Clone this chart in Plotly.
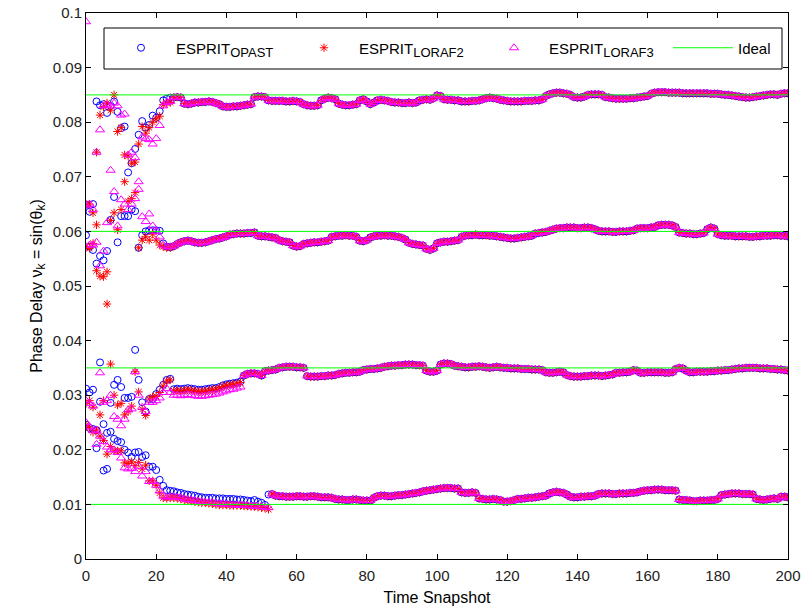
import plotly.graph_objects as go

# ---------------- data ----------------
ideal_values = [0.085, 0.06, 0.035, 0.01]
t_min, t_max = 0, 200

# early snapshots t = 0..24, four estimated phase delays per method
opast_early_1 = [0.0649, 0.0636, 0.0650, 0.0838, 0.0831, 0.0833, 0.0817, 0.0830, 0.0838, 0.0819, 0.0789, 0.0792, 0.0708,
                 0.0725, 0.0751, 0.0777, 0.0802, 0.0790, 0.0795, 0.0812, 0.0808, 0.0820, 0.0840, 0.0843, 0.0845]
opast_early_2 = [0.0593, 0.0572, 0.0566, 0.0541, 0.0555, 0.0547, 0.0564, 0.0621, 0.0663, 0.0580, 0.0628, 0.0628, 0.0628,
                 0.0640, 0.0637, 0.0570, 0.0593, 0.0600, 0.0602, 0.0602, 0.0602, 0.0601, 0.0578, 0.0572, 0.0571]
opast_early_3 = [0.0312, 0.0305, 0.0310, 0.0236, 0.0360, 0.0247, 0.0231, 0.0286, 0.0319, 0.0328, 0.0315, 0.0295, 0.0295,
                 0.0297, 0.0383, 0.0328, 0.0287, 0.0270, 0.0293, 0.0293, 0.0302, 0.0310, 0.0319, 0.0328, 0.0330]
opast_early_4 = [0.0246, 0.0240, 0.0238, 0.0203, 0.0288, 0.0162, 0.0165, 0.0233, 0.0220, 0.0216, 0.0214, 0.0200, 0.0195,
                 0.0187, 0.0195, 0.0196, 0.0187, 0.0190, 0.0169, 0.0169, 0.0163, 0.0145, 0.0134, 0.0126, 0.0125]

loraf2_early_1 = [0.0650, 0.0650, 0.0634, 0.0745, 0.0813, 0.0828, 0.0835, 0.0822, 0.0850, 0.0783, 0.0790, 0.0740, 0.0738,
                  0.0725, 0.0727, 0.0760, 0.0792, 0.0780, 0.0790, 0.0800, 0.0806, 0.0811, 0.0832, 0.0835, 0.0836]
loraf2_early_2 = [0.0572, 0.0569, 0.0578, 0.0612, 0.0518, 0.0517, 0.0526, 0.0620, 0.0634, 0.0603, 0.0640, 0.0691, 0.0655,
                  0.0660, 0.0671, 0.0570, 0.0584, 0.0590, 0.0584, 0.0595, 0.0584, 0.0575, 0.0572, 0.0570, 0.0570]
loraf2_early_3 = [0.0285, 0.0290, 0.0278, 0.0528, 0.0264, 0.0290, 0.0467, 0.0357, 0.0300, 0.0282, 0.0285, 0.0264, 0.0270,
                  0.0280, 0.0343, 0.0306, 0.0274, 0.0263, 0.0293, 0.0297, 0.0298, 0.0305, 0.0317, 0.0326, 0.0328]
loraf2_early_4 = [0.0245, 0.0240, 0.0232, 0.0236, 0.0225, 0.0217, 0.0192, 0.0206, 0.0198, 0.0198, 0.0198, 0.0176, 0.0175,
                  0.0178, 0.0171, 0.0177, 0.0165, 0.0172, 0.0143, 0.0143, 0.0135, 0.0121, 0.0112, 0.0111, 0.0112]

loraf3_early_1 = [0.0984, 0.0650, 0.0640, 0.0745, 0.0786, 0.0830, 0.0832, 0.0830, 0.0835, 0.0830, 0.0813, 0.0815, 0.0740,
                  0.0745, 0.0735, 0.0691, 0.0773, 0.0770, 0.0768, 0.0760, 0.0770, 0.0794, 0.0830, 0.0836, 0.0838]
loraf3_early_2 = [0.0648, 0.0575, 0.0575, 0.0580, 0.0537, 0.0564, 0.0616, 0.0712, 0.0673, 0.0610, 0.0658, 0.0650, 0.0640,
                  0.0650, 0.0660, 0.0677, 0.0627, 0.0618, 0.0632, 0.0610, 0.0600, 0.0590, 0.0575, 0.0572, 0.0572]
loraf3_early_3 = [0.0290, 0.0285, 0.0280, 0.0236, 0.0341, 0.0287, 0.0290, 0.0300, 0.0261, 0.0256, 0.0244, 0.0256, 0.0273,
                  0.0275, 0.0343, 0.0300, 0.0278, 0.0270, 0.0287, 0.0287, 0.0290, 0.0295, 0.0305, 0.0312, 0.0305]
loraf3_early_4 = [0.0250, 0.0242, 0.0235, 0.0210, 0.0225, 0.0215, 0.0205, 0.0200, 0.0200, 0.0195, 0.0185, 0.0167, 0.0165,
                  0.0166, 0.0160, 0.0170, 0.0152, 0.0160, 0.0142, 0.0142, 0.0135, 0.0125, 0.0115, 0.0113, 0.0114]

# converged snapshots t = 25..200, shared by all three methods
track1_late = [
    0.0845, 0.0846, 0.0845,
    0.0834, 0.0833, 0.0834, 0.0836,
    0.0836, 0.0837, 0.0837, 0.0838, 0.0837, 0.0835, 0.0833,
    0.0829, 0.0828, 0.0828, 0.0829, 0.0829, 0.0830, 0.0831, 0.0832, 0.0833,
    0.0846, 0.0847, 0.0847, 0.0846,
    0.0840, 0.0839, 0.0839, 0.0839, 0.0839, 0.0838, 0.0838, 0.0839, 0.0838, 0.0837,
    0.0833, 0.0831, 0.0830, 0.0830, 0.0831,
    0.0840, 0.0843, 0.0845, 0.0844, 0.0842,
    0.0834, 0.0832, 0.0831, 0.0831, 0.0832, 0.0833,
    0.0840, 0.0842, 0.0838,
    0.0833, 0.0836,
    0.0840, 0.0841, 0.0840, 0.0839,
    0.0837, 0.0836, 0.0836, 0.0835, 0.0835, 0.0836, 0.0835, 0.0836,
    0.0840, 0.0841, 0.0842, 0.0841, 0.0844,
    0.0849, 0.0848,
    0.0842, 0.0841, 0.0841, 0.0840, 0.0840,
    0.0838, 0.0838, 0.0838, 0.0839, 0.0839, 0.0840, 0.0842,
    0.0844, 0.0845, 0.0844, 0.0843,
    0.0841, 0.0840, 0.0839, 0.0838, 0.0838, 0.0838, 0.0838, 0.0839, 0.0839, 0.0839, 0.0840, 0.0840, 0.0842,
    0.0848, 0.0851, 0.0853, 0.0854, 0.0854, 0.0853, 0.0852, 0.0850,
    0.0846, 0.0845, 0.0845, 0.0847,
    0.0850, 0.0851, 0.0851, 0.0851, 0.0850,
    0.0846, 0.0845, 0.0844, 0.0843, 0.0843, 0.0843, 0.0843, 0.0844, 0.0844, 0.0845, 0.0846, 0.0847, 0.0848,
    0.0852, 0.0854, 0.0855, 0.0855, 0.0855, 0.0854, 0.0854, 0.0854, 0.0854, 0.0853, 0.0853, 0.0853,
    0.0853, 0.0853, 0.0853, 0.0853, 0.0853, 0.0852, 0.0852, 0.0852, 0.0851, 0.0850, 0.0850, 0.0849,
    0.0848, 0.0847, 0.0846, 0.0845, 0.0845, 0.0846, 0.0847, 0.0848, 0.0849,
    0.0850, 0.0851, 0.0851, 0.0850, 0.0852, 0.0853, 0.0853,
]
track2_late = [
    0.0573, 0.0577, 0.0580, 0.0582, 0.0583, 0.0582, 0.0580, 0.0579, 0.0579, 0.0580, 0.0582,
    0.0584, 0.0586, 0.0587, 0.0589, 0.0591,
    0.0594, 0.0595, 0.0596, 0.0596, 0.0596, 0.0597, 0.0597, 0.0598,
    0.0592, 0.0591, 0.0591, 0.0590, 0.0589, 0.0588,
    0.0584, 0.0582, 0.0581, 0.0580,
    0.0574, 0.0572, 0.0573,
    0.0577, 0.0578, 0.0579, 0.0580, 0.0580, 0.0581, 0.0582, 0.0583,
    0.0590, 0.0591, 0.0592, 0.0592, 0.0593, 0.0592, 0.0592, 0.0590,
    0.0583, 0.0582, 0.0584,
    0.0589, 0.0591, 0.0592, 0.0592, 0.0593, 0.0592, 0.0592, 0.0591, 0.0590, 0.0588,
    0.0585, 0.0579, 0.0577, 0.0576, 0.0575, 0.0574,
    0.0568, 0.0566, 0.0569,
    0.0578, 0.0580, 0.0581, 0.0581, 0.0582, 0.0583, 0.0584,
    0.0590, 0.0592, 0.0593, 0.0593, 0.0594, 0.0593, 0.0593, 0.0593, 0.0592, 0.0592, 0.0591, 0.0590,
    0.0589, 0.0588, 0.0587, 0.0587, 0.0588, 0.0589, 0.0590, 0.0591, 0.0592,
    0.0596, 0.0597, 0.0598, 0.0599, 0.0601, 0.0603,
    0.0605, 0.0606, 0.0606, 0.0607, 0.0607, 0.0607, 0.0606, 0.0606, 0.0607, 0.0607, 0.0606, 0.0604,
    0.0601, 0.0600, 0.0600, 0.0600, 0.0599, 0.0599, 0.0600, 0.0600, 0.0600, 0.0601, 0.0602,
    0.0605, 0.0606, 0.0606, 0.0606, 0.0607, 0.0608,
    0.0611, 0.0612, 0.0612, 0.0612, 0.0611, 0.0608,
    0.0598, 0.0597, 0.0596, 0.0596, 0.0595, 0.0595, 0.0596, 0.0597,
    0.0604, 0.0607, 0.0605,
    0.0595, 0.0593, 0.0592, 0.0592, 0.0592, 0.0591, 0.0591, 0.0591, 0.0591, 0.0590, 0.0590,
    0.0591, 0.0591, 0.0592, 0.0592, 0.0592, 0.0593, 0.0593, 0.0592, 0.0592, 0.0591,
]
track3_late = [
    0.0311, 0.0312, 0.0311, 0.0312, 0.0313, 0.0312, 0.0311,
    0.0310, 0.0310, 0.0311, 0.0312, 0.0313, 0.0313, 0.0315,
    0.0318, 0.0320, 0.0321, 0.0322, 0.0323, 0.0325,
    0.0336, 0.0339, 0.0340, 0.0340, 0.0339, 0.0336,
    0.0344, 0.0345, 0.0346, 0.0347,
    0.0350, 0.0351, 0.0352, 0.0352, 0.0352, 0.0351, 0.0351, 0.0350,
    0.0335, 0.0334, 0.0334, 0.0334, 0.0335, 0.0335, 0.0336, 0.0336, 0.0337,
    0.0339, 0.0340, 0.0341, 0.0341, 0.0342, 0.0342, 0.0343,
    0.0346, 0.0347, 0.0348, 0.0348, 0.0349, 0.0350,
    0.0352, 0.0353, 0.0354, 0.0354, 0.0355, 0.0355, 0.0356, 0.0356, 0.0356, 0.0355, 0.0355, 0.0354,
    0.0345, 0.0343, 0.0343, 0.0345,
    0.0356, 0.0358, 0.0358, 0.0357,
    0.0354, 0.0353, 0.0352, 0.0351, 0.0351, 0.0352, 0.0352, 0.0353, 0.0352, 0.0351, 0.0350, 0.0351, 0.0352, 0.0351,
    0.0350, 0.0350, 0.0349, 0.0349, 0.0349, 0.0348, 0.0348, 0.0348, 0.0347, 0.0347, 0.0347, 0.0346,
    0.0342, 0.0341, 0.0341, 0.0342, 0.0343, 0.0342,
    0.0337, 0.0335, 0.0334, 0.0334, 0.0334, 0.0335, 0.0335, 0.0336, 0.0336, 0.0336, 0.0335, 0.0336, 0.0337, 0.0338,
    0.0341, 0.0341, 0.0342, 0.0342, 0.0343,
    0.0346, 0.0345,
    0.0341, 0.0341, 0.0342, 0.0342, 0.0342, 0.0342, 0.0342, 0.0341, 0.0341, 0.0342,
    0.0348, 0.0350, 0.0349, 0.0345,
    0.0342, 0.0342, 0.0343, 0.0343, 0.0343, 0.0343, 0.0344, 0.0344, 0.0345, 0.0345, 0.0346, 0.0346, 0.0347,
    0.0348, 0.0349, 0.0349, 0.0350, 0.0350, 0.0350, 0.0350, 0.0349, 0.0349, 0.0349, 0.0348, 0.0348,
    0.0347, 0.0347, 0.0346, 0.0345,
]
track4_late = [
    0.0124, 0.0122, 0.0121, 0.0119, 0.0118, 0.0117, 0.0116,
    0.0114, 0.0113, 0.0112, 0.0112, 0.0112, 0.0111, 0.0111, 0.0111, 0.0110, 0.0110, 0.0110, 0.0109, 0.0109,
    0.0108, 0.0107, 0.0106, 0.0108, 0.0105, 0.0103, 0.0099,
    0.0118, 0.0119, 0.0116, 0.0115, 0.0115, 0.0114, 0.0114, 0.0114, 0.0115, 0.0115, 0.0114, 0.0114,
    0.0115, 0.0115, 0.0114, 0.0113, 0.0113, 0.0113, 0.0112,
    0.0110, 0.0109, 0.0109, 0.0108, 0.0108, 0.0109, 0.0109, 0.0108, 0.0107, 0.0107, 0.0107,
    0.0112, 0.0115, 0.0116, 0.0116, 0.0115, 0.0115, 0.0116, 0.0117, 0.0117, 0.0118, 0.0119, 0.0120, 0.0121, 0.0122,
    0.0124, 0.0125, 0.0126, 0.0127, 0.0128, 0.0129, 0.0130, 0.0130, 0.0130, 0.0129, 0.0129,
    0.0122, 0.0121, 0.0121, 0.0122, 0.0121,
    0.0111, 0.0110, 0.0109, 0.0109, 0.0110, 0.0109, 0.0108,
    0.0105, 0.0105, 0.0106, 0.0108,
    0.0110, 0.0110, 0.0111, 0.0112, 0.0112, 0.0113, 0.0114, 0.0115, 0.0116,
    0.0120, 0.0122, 0.0123, 0.0122, 0.0121, 0.0118,
    0.0114, 0.0113, 0.0113, 0.0114, 0.0114, 0.0115, 0.0115, 0.0116,
    0.0119, 0.0120, 0.0120, 0.0120, 0.0119, 0.0119, 0.0120, 0.0120, 0.0120, 0.0121, 0.0121, 0.0122, 0.0124,
    0.0125, 0.0126, 0.0126, 0.0127, 0.0127, 0.0127, 0.0126, 0.0126, 0.0126, 0.0125,
    0.0109, 0.0108, 0.0108, 0.0107, 0.0106, 0.0106, 0.0107, 0.0107, 0.0107, 0.0108, 0.0108, 0.0110,
    0.0117, 0.0118, 0.0119, 0.0120, 0.0120, 0.0120, 0.0119, 0.0119, 0.0119, 0.0118,
    0.0110, 0.0109, 0.0108, 0.0109, 0.0110, 0.0111, 0.0110,
    0.0114, 0.0114, 0.0113,
]

# where the LORAF estimates differ from OPAST right after convergence
loraf2_track3_mid = [0.0308, 0.0309, 0.0308, 0.0309, 0.0310, 0.0309, 0.0308, 0.0307, 0.0307, 0.0308,
                     0.0309, 0.0310, 0.0311, 0.0313, 0.0316, 0.0318, 0.0319, 0.0320, 0.0321, 0.0323]
loraf3_track3_mid = [0.0300, 0.0300, 0.0299, 0.0300, 0.0301, 0.0300, 0.0299, 0.0298, 0.0298, 0.0299,
                     0.0300, 0.0301, 0.0302, 0.0304, 0.0306, 0.0308, 0.0310, 0.0311, 0.0313, 0.0315]
loraf2_track4_mid = [0.0112, 0.0111, 0.0110, 0.0108, 0.0107, 0.0106, 0.0105, 0.0104, 0.0103, 0.0103,
                     0.0102, 0.0101, 0.0100, 0.0099, 0.0099, 0.0099, 0.0098, 0.0098, 0.0098, 0.0098,
                     0.0097, 0.0097, 0.0096, 0.0096, 0.0095, 0.0094, 0.0093, 0.0091]
loraf3_track4_mid = [0.0114, 0.0113, 0.0112, 0.0110, 0.0109, 0.0108, 0.0107, 0.0106, 0.0105, 0.0104,
                     0.0104, 0.0103, 0.0102, 0.0101, 0.0101, 0.0100, 0.0100, 0.0099, 0.0099, 0.0099,
                     0.0098, 0.0098, 0.0097, 0.0097, 0.0096, 0.0096, 0.0095, 0.0094]


def join(early, late, mid=None):
    mid = mid or []
    return early + mid + late[len(mid):]


series = {
    "OPAST": [join(opast_early_1, track1_late), join(opast_early_2, track2_late),
              join(opast_early_3, track3_late), join(opast_early_4, track4_late)],
    "LORAF2": [join(loraf2_early_1, track1_late), join(loraf2_early_2, track2_late),
               join(loraf2_early_3, track3_late, loraf2_track3_mid),
               join(loraf2_early_4, track4_late, loraf2_track4_mid)],
    "LORAF3": [join(loraf3_early_1, track1_late), join(loraf3_early_2, track2_late),
               join(loraf3_early_3, track3_late, loraf3_track3_mid),
               join(loraf3_early_4, track4_late, loraf3_track4_mid)],
}

styles = {
    "OPAST": dict(symbol="circle-open", color="#0000FF", size=7),
    "LORAF2": dict(symbol="asterisk-open", color="#FF0000", size=7),
    "LORAF3": dict(symbol="triangle-up-open", color="#FF00FF", size=8),
}
legend_widths = {"OPAST": 108, "LORAF2": 115, "LORAF3": 114}


def sub(txt, size=13):
    return "<sub><span style='font-size:%dpx'>%s</span></sub>" % (size, txt)


fig = go.Figure()
for name, tracks in series.items():
    xs, ys = [], []
    for tr in tracks:
        xs += list(range(t_min, t_min + len(tr)))
        ys += tr
    st = styles[name]
    fig.add_trace(go.Scatter(
        x=xs, y=ys, mode="markers", name="ESPRIT" + sub(name),
        legendwidth=legend_widths[name],
        marker=dict(symbol=st["symbol"], size=st["size"], color=st["color"],
                    line=dict(width=1, color=st["color"])),
    ))

ix, iy = [], []
for v in ideal_values:
    ix += [t_min, t_max, None]
    iy += [v, v, None]
fig.add_trace(go.Scatter(x=ix, y=iy, mode="lines", name="Ideal", legendwidth=38,
                         line=dict(color="#00FF00", width=1)))

W, H = 806, 612
L, R, T, B = 86, 18, 13, 53
pw, ph = W - L - R, H - T - B


def px_x(p):
    return (p - L) / pw


def px_y(p):
    return (H - B - p) / ph


fig.add_shape(type="rect", xref="paper", yref="paper",
              x0=px_x(104), x1=px_x(782), y0=px_y(69), y1=px_y(28),
              line=dict(color="black", width=1), fillcolor="white", layer="above")

axis_common = dict(showline=True, linecolor="black", linewidth=1, mirror="ticks",
                   ticks="inside", ticklen=5, tickcolor="black", showgrid=False,
                   zeroline=False, tickfont=dict(size=15, color="#222"))
fig.update_xaxes(range=[0, 200], dtick=20, tick0=0, ticklabelstandoff=3,
                 title=dict(text="Time Snapshot", font=dict(size=16), standoff=8), **axis_common)
fig.update_yaxes(range=[0, 0.1], dtick=0.01, tick0=0,
                 title=dict(text="Phase Delay ν" + sub("k", 12) + " = sin(θ" + sub("k", 12) + ")",
                            font=dict(size=16), standoff=6),
                 **axis_common)

fig.update_layout(
    width=W, height=H,
    margin=dict(l=L, r=R, t=T, b=B, autoexpand=False),
    paper_bgcolor="white", plot_bgcolor="white",
    font=dict(family="Arial, Liberation Sans, sans-serif", size=15, color="black"),
    showlegend=True,
    legend=dict(orientation="h", x=px_x(106), xanchor="left", y=px_y(48), yanchor="middle",
                bgcolor="rgba(0,0,0,0)", borderwidth=0, itemwidth=60,
                font=dict(size=15, color="black")),
)

fig.write_html("out.html")
